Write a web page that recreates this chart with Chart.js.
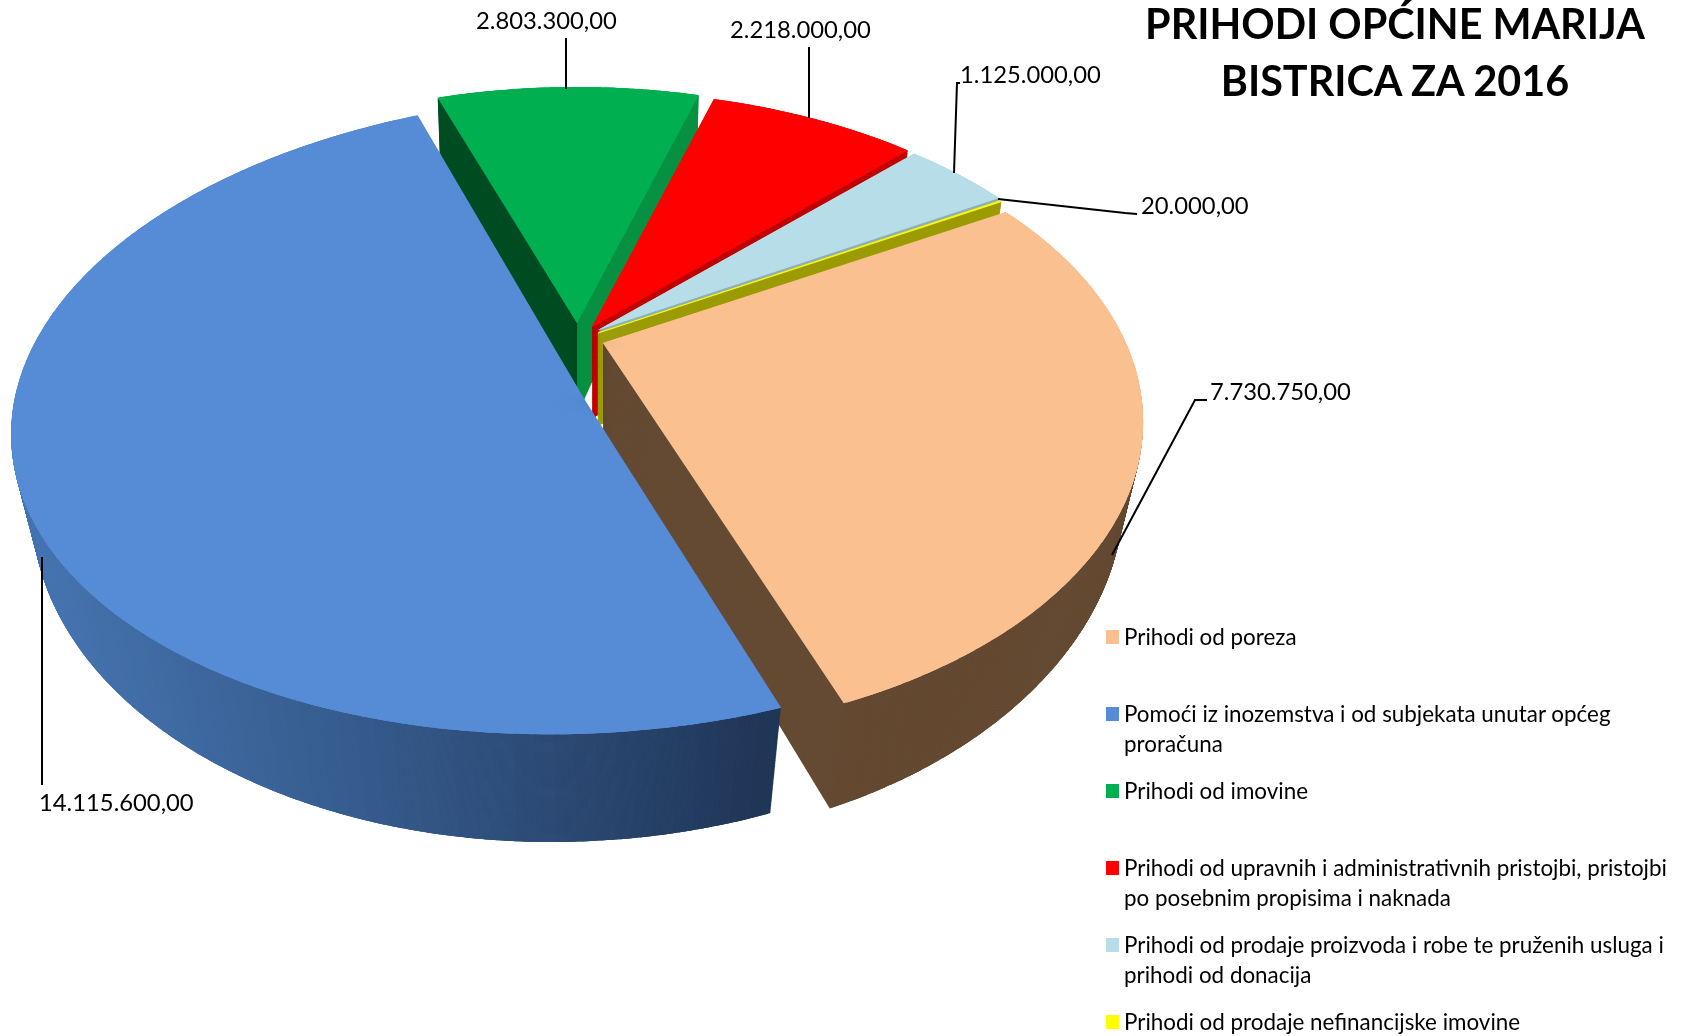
<!DOCTYPE html>
<html lang="hr">
<head>
<meta charset="utf-8">
<title>Prihodi općine Marija Bistrica za 2016</title>
<script src="https://cdn.jsdelivr.net/npm/chart.js@4"></script>
<style>
    html, body { margin: 0; padding: 0; background: #fff; }
    #stage { position: relative; width: 1690px; height: 1036px; overflow: hidden; font-family: Lato, sans-serif; color: #000; }
    #pie { position: absolute; left: 0; top: 0; }
    #title { position: absolute; left: 1095px; top: -5px; width: 600px; text-align: center; font-weight: 700; font-size: 41.3px; line-height: 57px; }
    .legendItem { position: absolute; left: 1124px; width: 490px; font-size: 22.4px; line-height: 30px; white-space: nowrap; }
    .legendItem i { position: absolute; left: -18px; top: 8px; width: 13px; height: 14px; }
</style>
</head>
<body>
<div id="stage">
    <canvas id="pie" width="1690" height="1036"></canvas>
    <div id="title">PRIHODI OPĆINE MARIJA<br>BISTRICA ZA 2016</div>
</div>
<script>
const categories = [
    'Prihodi od poreza',
    'Pomoći iz inozemstva i od subjekata unutar općeg|proračuna',
    'Prihodi od imovine',
    'Prihodi od upravnih i administrativnih pristojbi, pristojbi|po posebnim propisima i naknada',
    'Prihodi od prodaje proizvoda i robe te pruženih usluga i|prihodi od donacija',
    'Prihodi od prodaje nefinancijske imovine'
];
const values = [7730750, 14115600, 2803300, 2218000, 1125000, 20000];
const topColors = ['#FBC08F', '#568BD6', '#00B050', '#FF0000', '#B7DEE8', '#FFFF00'];
const wallColors = ['#654A33', null, '#004D23', '#C00000', '#8FB0B8', '#9C9C00'];
const greenRightWall = '#089143';
const blueWallStops = [[40, [70, 116, 176]], [250, [60, 100, 152]], [550, [44, 74, 116]], [780, [32, 53, 85]]];

// every slice has its own tip after the explosion, blue sits nearer to the viewer
const sliceViews = [
    { tipX: 603, tipY: 343, a: 523, c: 0, d: 295, q: 0.25, rot: 0 },
    { tipX: 586, tipY: 402, a: 572, c: -35, d: 319, q: 0.04, rot: -2 },
    { tipX: 577, tipY: 323, a: 523, c: 0, d: 295, q: 0.25, rot: 0 },
    { tipX: 592, tipY: 327, a: 523, c: 0, d: 295, q: 0.25, rot: 0 },
    { tipX: 598, tipY: 330, a: 523, c: 0, d: 295, q: 0.25, rot: 0 },
    { tipX: 598, tipY: 333, a: 523, c: 0, d: 295, q: 0.25, rot: 0 }
];
const drawOrder = [2, 3, 4, 5, 0, 1];
const depthLayers = 110;
const tipDepth = 92;
const wedgeStep = 2 * Math.PI / 180;

const labelPos = [[1210, 392], [39, 803], [476, 21], [730, 30], [960, 75], [1141, 206]];
const leaders = [
    [[1112, 555], [1195, 400], [1207, 400]],
    [[42, 557], [42, 785]],
    [[566, 89], [566, 38]],
    [[809, 118], [809, 47]],
    [[954, 173], [957, 83], [960, 83]],
    [[998, 199], [1125, 213], [1137, 214]]
];

function formatValue(value) {
    return String(value).replace(/\B(?=(\d{3})+$)/g, '.') + ',00';
}

function project(view, angle) {
    let turned = angle + view.rot * Math.PI / 180;
    let X = Math.cos(turned);
    let Y = Math.sin(turned);
    let w = 1 - view.q * Y;
    return { x: view.tipX + (view.a * X + view.c * Y) / w, y: view.tipY + view.d * Y / w };
}

// t = 0 is the top face, t = 1 the bottom of the pie
function sink(p, t) {
    let shrink = 0.013 + (p.y - 100) * 0.00007;
    return { x: 590 + (p.x - 590) * (1 - shrink * t), y: p.y + t * (55 + (p.y - 100) * 0.083) };
}

function blueWall(x) {
    for (let i = 1; i < blueWallStops.length; i++) {
        if (x <= blueWallStops[i][0] || i == blueWallStops.length - 1) {
            let a = blueWallStops[i - 1];
            let b = blueWallStops[i];
            let f = Math.min(1, Math.max(0, (x - a[0]) / (b[0] - a[0])));
            let rgb = a[1].map((c, j) => Math.round(c + (b[1][j] - c) * f));
            return `rgb(${rgb[0]},${rgb[1]},${rgb[2]})`;
        }
    }
}

function wallColor(index, view, arcMid, angle) {
    if (index == 1) return blueWall(project(view, angle).x);
    if (index == 2 && angle > arcMid) return greenRightWall;
    return wallColors[index];
}

// local affine for one thin wedge: tip and both rim corners go where the view puts them
function drawWedge(ctx, arc, view, from, to, drawFrom, drawTo, t, color, border) {
    let tip = { x: view.tipX, y: view.tipY + t * tipDepth };
    let p0 = sink(project(view, from), t);
    let p1 = sink(project(view, to), t);
    let r = arc.outerRadius;
    let ux = r * Math.cos(from), uy = r * Math.sin(from);
    let vx = r * Math.cos(to), vy = r * Math.sin(to);
    let det = ux * vy - vx * uy;
    let m11 = ((p0.x - tip.x) * vy - (p1.x - tip.x) * uy) / det;
    let m12 = ((p1.x - tip.x) * ux - (p0.x - tip.x) * vx) / det;
    let m21 = ((p0.y - tip.y) * vy - (p1.y - tip.y) * uy) / det;
    let m22 = ((p1.y - tip.y) * ux - (p0.y - tip.y) * vx) / det;
    ctx.setTransform(m11, m21, m12, m22, tip.x - m11 * arc.x - m12 * arc.y, tip.y - m21 * arc.x - m22 * arc.y);
    arc.startAngle = drawFrom;
    arc.endAngle = drawTo;
    arc.circumference = drawTo - drawFrom;
    arc.options = Object.assign({}, arc.baseOptions, { backgroundColor: color, borderColor: color, borderWidth: border });
    arc.draw(ctx);
}

function drawSlice(ctx, arc, index) {
    let view = sliceViews[index];
    let start = arc.startAngle;
    let end = arc.endAngle;
    let count = Math.max(1, Math.ceil((end - start) / wedgeStep));
    let step = (end - start) / count;
    let overlap = count > 1 ? 0.03 : 0;
    for (let layer = depthLayers; layer >= 0; layer--) {
        let t = layer / depthLayers;
        for (let n = 0; n < count; n++) {
            let from = start + n * step;
            let to = from + step;
            let drawFrom = n == 0 ? from : from - overlap;
            let drawTo = n == count - 1 ? to : to + overlap;
            let color = layer == 0 ? topColors[index] : wallColor(index, view, (start + end) / 2, (from + to) / 2);
            // the smallest slice is thinner than a pixel, its outline keeps it visible
            let border = index == 5 ? (layer == 0 ? 1 : 2) : 0;
            drawWedge(ctx, arc, view, from, to, drawFrom, drawTo, t, color, border);
        }
    }
    arc.startAngle = start;
    arc.endAngle = end;
    arc.circumference = end - start;
    arc.options = arc.baseOptions;
}

const pie3d = {
    id: 'pie3d',
    beforeDatasetDraw(chart, args) {
        let ctx = chart.ctx;
        let arcs = args.meta.data;
        ctx.save();
        drawOrder.forEach(index => {
            arcs[index].baseOptions = arcs[index].options;
            drawSlice(ctx, arcs[index], index);
        });
        ctx.restore();
        return false;
    },
    afterDatasetsDraw(chart) {
        let ctx = chart.ctx;
        ctx.save();
        ctx.strokeStyle = '#000';
        ctx.lineWidth = 2;
        leaders.forEach(line => {
            ctx.beginPath();
            line.forEach((p, i) => i == 0 ? ctx.moveTo(p[0], p[1]) : ctx.lineTo(p[0], p[1]));
            ctx.stroke();
        });
        ctx.fillStyle = '#000';
        ctx.font = '23.8px Lato';
        ctx.textBaseline = 'middle';
        values.forEach((value, i) => ctx.fillText(formatValue(value), labelPos[i][0], labelPos[i][1]));
        ctx.restore();
    }
};

function renderLegend() {
    let stage = document.getElementById('stage');
    for (let i = 0; i < categories.length; i++) {
        let item = document.createElement('div');
        item.className = 'legendItem';
        item.style.top = (622 + 77 * i) + 'px';
        item.innerHTML = `<i style="background:${topColors[i]}"></i>${categories[i].split('|').join('<br>')}`;
        stage.appendChild(item);
    }
}

function init() {
    renderLegend();
    new Chart(document.getElementById('pie'), {
        type: 'pie',
        data: {
            labels: categories.map(c => c.replace('|', ' ')),
            datasets: [{ data: values, backgroundColor: topColors, borderWidth: 0 }]
        },
        options: {
            responsive: false,
            animation: false,
            events: [],
            rotation: 60,
            plugins: { legend: { display: false }, tooltip: { enabled: false } }
        },
        plugins: [pie3d]
    });
}

init();
</script>
</body>
</html>
